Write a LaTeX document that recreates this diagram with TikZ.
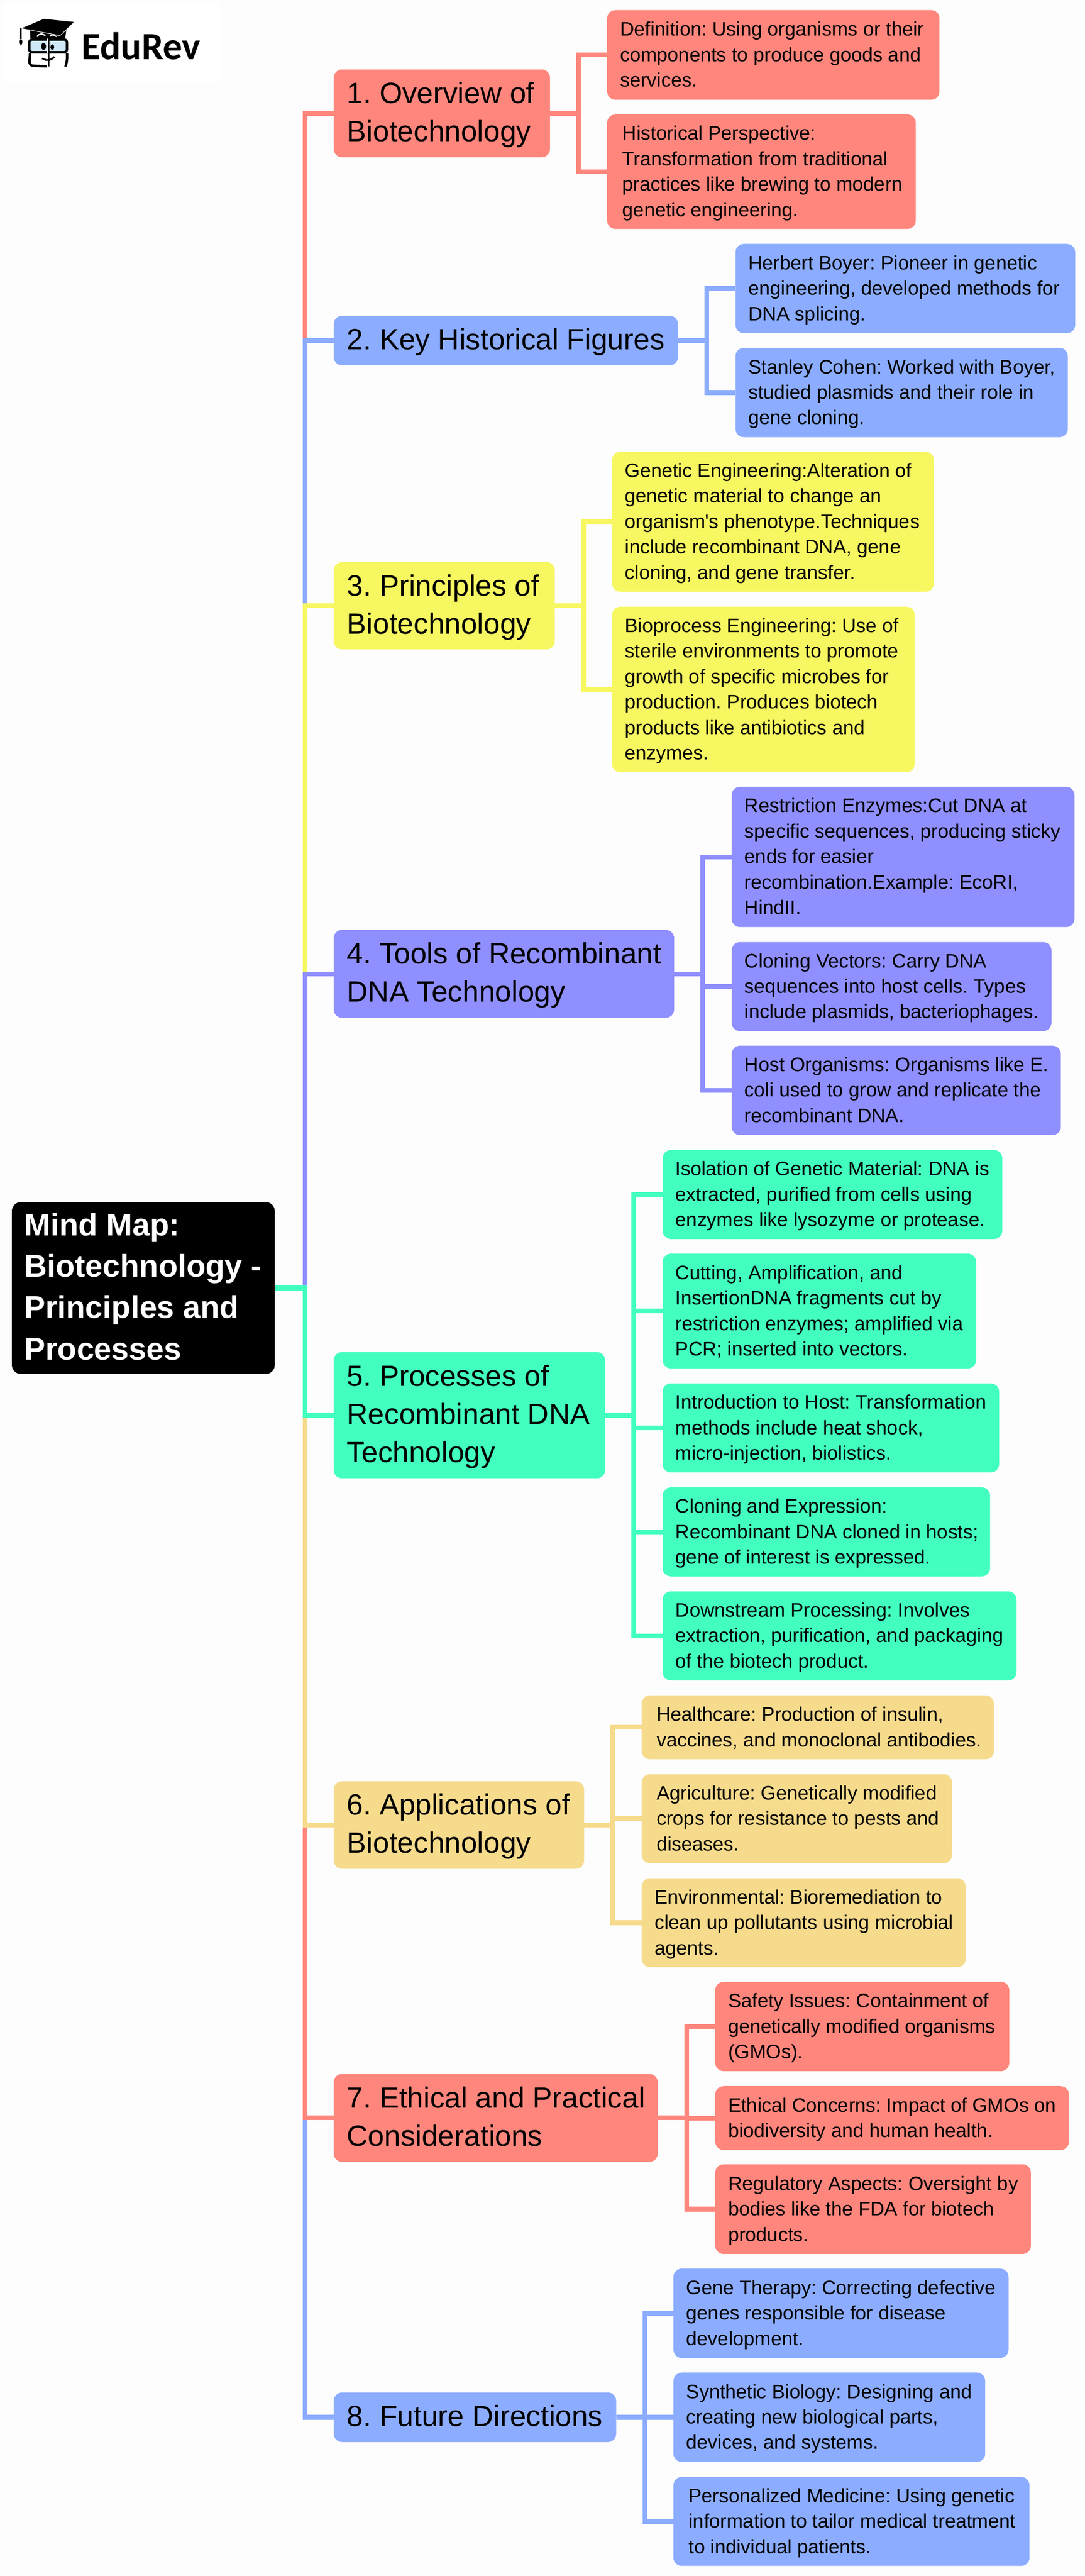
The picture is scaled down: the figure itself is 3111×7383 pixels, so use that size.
\documentclass[tikz,border=0pt]{standalone}
\usepackage{fontspec}
\newfontfamily\lsans{Liberation Sans}
\newfontfamily\logofont{Carlito}
\definecolor{bgc}{HTML}{FDFDFD}
\definecolor{cred}{HTML}{FF867C}
\definecolor{cblue}{HTML}{8CADFF}
\definecolor{cyel}{HTML}{F7F761}
\definecolor{cpur}{HTML}{8F8FFF}
\definecolor{cteal}{HTML}{42FFC0}
\definecolor{ctan}{HTML}{F6DB8C}
\definecolor{clens}{HTML}{CFE8F8}
\newlength\mmpx \setlength\mmpx{0.01cm}
\newcommand\leaffont{\lsans\frenchspacing\fontsize{15.93}{20.77}\selectfont}
\newcommand\branchfont{\lsans\frenchspacing\fontsize{23.9}{31}\selectfont}
\newcommand\rootfont{\lsans\frenchspacing\bfseries\fontsize{25.6}{33.7}\selectfont}
\tikzset{
  mmshape/.style={anchor=north west,inner sep=0pt,outer sep=0pt,rounded corners=6.8pt,text=black},
  leafbox/.style={mmshape,font=\leaffont},
  branchbox/.style={mmshape,font=\branchfont},
  rootbox/.style={mmshape,font=\rootfont,text=white,rounded corners=7.5pt},
  conn/.style={line width=3.9pt,line join=miter,line cap=butt},
}
% name, x1, y1, x2, y2, colour, inset, style, lines
\newcommand\mmbox[9]{%
  \pgfmathsetlengthmacro\mmw{(#4-#2)*0.01cm}%
  \pgfmathsetlengthmacro\mmh{(#5-#3)*0.01cm}%
  \node[#8,fill=#6,minimum width=\mmw,minimum height=\mmh] (#1) at (#2,#3)
    {\makebox[\mmw][l]{\hspace*{#7\mmpx}\raisebox{-4\mmpx}[\height][\depth]{\begin{tabular}{@{}l@{}}#9\end{tabular}}}};%
}
% colour, parent, elbow x-coordinate name, child
\newcommand\mmlink[4]{\draw[conn,draw=#1] (#2.east) -- (#2.east -| #3) -- (#3 |- #4.west) -- (#4.west);}
\begin{document}
\begin{tikzpicture}[x=0.01cm,y=-0.01cm]
\useasboundingbox (0,0) rectangle (3111,7383);
\fill[bgc] (0,0) rectangle (3111,7383);
% logo
\fill[white] (8,8) rectangle (632,236);
\fill[black] (62,81) -- (126,54) -- (212,63) -- (172,101) -- (85,85) -- cycle;
\fill[black] (86,87) -- (172,103) -- (190,87) -- (187,109) -- (87,109) -- cycle;
\draw[white,line width=1pt] (106,105) .. controls (112,95) and (124,95) .. (130,103);
\draw[white,line width=1pt] (143,104) .. controls (148,99) and (156,99) .. (162,105);
\draw[black,line width=1pt] (60,81) -- (60,112);
\fill[black] (60,112) .. controls (54,116) and (56,124) .. (60,131) .. controls (65,124) and (67,116) .. (60,112) -- cycle;
\draw[black,line width=2pt,fill=clens,rounded corners=2.5pt] (84,113) rectangle (192,150);
\fill[black] (125,133) ellipse [x radius=7,y radius=10];
\fill[black] (150,135) ellipse [x radius=5.5,y radius=8];
\draw[black,line width=2pt,rounded corners=3pt] (86,152) -- (84,188) -- (134,190);
\draw[black,line width=2pt,rounded corners=3pt] (192,152) -- (193,170) -- (188,191);
\draw[white,line width=1pt] (136,110) -- (136,152);
\draw[black,line width=1.2pt] (139,110) -- (139,191);
\draw[black,line width=1.4pt] (121,167) .. controls (130,174) and (145,175) .. (156,163);
\node[anchor=base west,inner sep=0pt,font=\logofont\bfseries\fontsize{31.5}{36}\selectfont] (logotext) at (234,171) {EduRev};
% root and branches
\mmbox{root}{34}{3445}{788}{3938}{black}{36}{rootbox}{Mind Map:\\Biotechnology -\\Principles and\\Processes}
\mmbox{b1}{957}{199}{1577}{451}{cred}{38}{branchbox}{1. Overview of\\Biotechnology}
\mmbox{b2}{957}{905}{1944}{1047}{cblue}{38}{branchbox}{2. Key Historical Figures}
\mmbox{b3}{957}{1611}{1591}{1861}{cyel}{38}{branchbox}{3. Principles of\\Biotechnology}
\mmbox{b4}{957}{2665}{1933}{2917}{cpur}{38}{branchbox}{4. Tools of Recombinant\\DNA Technology}
\mmbox{b5}{957}{3875}{1735}{4237}{cteal}{38}{branchbox}{5. Processes of\\Recombinant DNA\\Technology}
\mmbox{b6}{957}{5105}{1675}{5356}{ctan}{38}{branchbox}{6. Applications of\\Biotechnology}
\mmbox{b7}{957}{5944}{1886}{6196}{cred}{38}{branchbox}{7. Ethical and Practical\\Considerations}
\mmbox{b8}{957}{6857}{1767}{6999}{cblue}{38}{branchbox}{8. Future Directions}
% leaves
\mmbox{la}{1741}{29}{2694}{286}{cred}{37}{leafbox}{Definition: Using organisms or their\\components to produce goods and\\services.}
\mmbox{lb}{1741}{328}{2626}{656}{cred}{44}{leafbox}{Historical Perspective:\\Transformation from traditional\\practices like brewing to modern\\genetic engineering.}
\mmbox{lc}{2109}{699}{3083}{955}{cblue}{37}{leafbox}{Herbert Boyer: Pioneer in genetic\\engineering, developed methods for\\DNA splicing.}
\mmbox{ld}{2109}{997}{3062}{1253}{cblue}{37}{leafbox}{Stanley Cohen: Worked with Boyer,\\studied plasmids and their role in\\gene cloning.}
\mmbox{le}{1755}{1295}{2678}{1696}{cyel}{37}{leafbox}{Genetic Engineering:Alteration of\\genetic material to change an\\organism's phenotype.Techniques\\include recombinant DNA, gene\\cloning, and gene transfer.}
\mmbox{lf}{1755}{1739}{2623}{2213}{cyel}{37}{leafbox}{Bioprocess Engineering: Use of\\sterile environments to promote\\growth of specific microbes for\\production. Produces biotech\\products like antibiotics and\\enzymes.}
\mmbox{lg}{2098}{2255}{3081}{2657}{cpur}{37}{leafbox}{Restriction Enzymes:Cut DNA at\\specific sequences, producing sticky\\ends for easier\\recombination.Example: EcoRI,\\HindII.}
\mmbox{lh}{2098}{2700}{3015}{2955}{cpur}{37}{leafbox}{Cloning Vectors: Carry DNA\\sequences into host cells. Types\\include plasmids, bacteriophages.}
\mmbox{li}{2098}{2997}{3042}{3253}{cpur}{37}{leafbox}{Host Organisms: Organisms like E.\\coli used to grow and replicate the\\recombinant DNA.}
\mmbox{lj}{1900}{3296}{2874}{3551}{cteal}{37}{leafbox}{Isolation of Genetic Material: DNA is\\extracted, purified from cells using\\enzymes like lysozyme or protease.}
\mmbox{lk}{1900}{3593}{2799}{3922}{cteal}{37}{leafbox}{Cutting, Amplification, and\\InsertionDNA fragments cut by\\restriction enzymes; amplified via\\PCR; inserted into vectors.}
\mmbox{ll}{1900}{3965}{2865}{4220}{cteal}{37}{leafbox}{Introduction to Host: Transformation\\methods include heat shock,\\micro-injection, biolistics.}
\mmbox{lm}{1900}{4263}{2839}{4518}{cteal}{37}{leafbox}{Cloning and Expression:\\Recombinant DNA cloned in hosts;\\gene of interest is expressed.}
\mmbox{ln}{1900}{4561}{2915}{4816}{cteal}{37}{leafbox}{Downstream Processing: Involves\\extraction, purification, and packaging\\of the biotech product.}
\mmbox{lo}{1840}{4859}{2850}{5042}{ctan}{43}{leafbox}{Healthcare: Production of insulin,\\vaccines, and monoclonal antibodies.}
\mmbox{lp}{1840}{5085}{2730}{5340}{ctan}{43}{leafbox}{Agriculture: Genetically modified\\crops for resistance to pests and\\diseases.}
\mmbox{lq}{1840}{5383}{2769}{5638}{ctan}{37}{leafbox}{Environmental: Bioremediation to\\clean up pollutants using microbial\\agents.}
\mmbox{lr}{2051}{5680}{2894}{5936}{cred}{37}{leafbox}{Safety Issues: Containment of\\genetically modified organisms\\(GMOs).}
\mmbox{ls}{2051}{5979}{3065}{6162}{cred}{37}{leafbox}{Ethical Concerns: Impact of GMOs on\\biodiversity and human health.}
\mmbox{lt}{2051}{6203}{2956}{6460}{cred}{37}{leafbox}{Regulatory Aspects: Oversight by\\bodies like the FDA for biotech\\products.}
\mmbox{lu}{1931}{6502}{2892}{6758}{cblue}{37}{leafbox}{Gene Therapy: Correcting defective\\genes responsible for disease\\development.}
\mmbox{lv}{1931}{6800}{2825}{7056}{cblue}{37}{leafbox}{Synthetic Biology: Designing and\\creating new biological parts,\\devices, and systems.}
\mmbox{lw}{1931}{7099}{2952}{7354}{cblue}{44}{leafbox}{Personalized Medicine: Using genetic\\information to tailor medical treatment\\to individual patients.}
% elbows
\coordinate (spine) at (875,0);
\coordinate (e1) at (1659,0);
\coordinate (e2) at (2027,0);
\coordinate (e3) at (1674,0);
\coordinate (e4) at (2015,0);
\coordinate (e5) at (1817,0);
\coordinate (e6) at (1757,0);
\coordinate (e7) at (1969,0);
\coordinate (e8) at (1849,0);
% main connectors, outermost first
\newcommand\mmmain[2]{\draw[conn,draw=#1] (root.east) -- (root.east -| spine) -- (spine |- #2.west) -- (#2.west);}
\mmmain{cred}{b1}
\mmmain{cblue}{b8}
\mmmain{cblue}{b2}
\mmmain{cred}{b7}
\mmmain{cyel}{b3}
\mmmain{ctan}{b6}
\mmmain{cpur}{b4}
\mmmain{cteal}{b5}
% branch connectors
\mmlink{cred}{b1}{e1}{la} \mmlink{cred}{b1}{e1}{lb}
\mmlink{cblue}{b2}{e2}{lc} \mmlink{cblue}{b2}{e2}{ld}
\mmlink{cyel}{b3}{e3}{le} \mmlink{cyel}{b3}{e3}{lf}
\mmlink{cpur}{b4}{e4}{lg} \mmlink{cpur}{b4}{e4}{lh} \mmlink{cpur}{b4}{e4}{li}
\mmlink{cteal}{b5}{e5}{lj} \mmlink{cteal}{b5}{e5}{lk} \mmlink{cteal}{b5}{e5}{ll} \mmlink{cteal}{b5}{e5}{lm} \mmlink{cteal}{b5}{e5}{ln}
\mmlink{ctan}{b6}{e6}{lo} \mmlink{ctan}{b6}{e6}{lp} \mmlink{ctan}{b6}{e6}{lq}
\mmlink{cred}{b7}{e7}{lr} \mmlink{cred}{b7}{e7}{ls} \mmlink{cred}{b7}{e7}{lt}
\mmlink{cblue}{b8}{e8}{lu} \mmlink{cblue}{b8}{e8}{lv} \mmlink{cblue}{b8}{e8}{lw}
\end{tikzpicture}
\end{document}
